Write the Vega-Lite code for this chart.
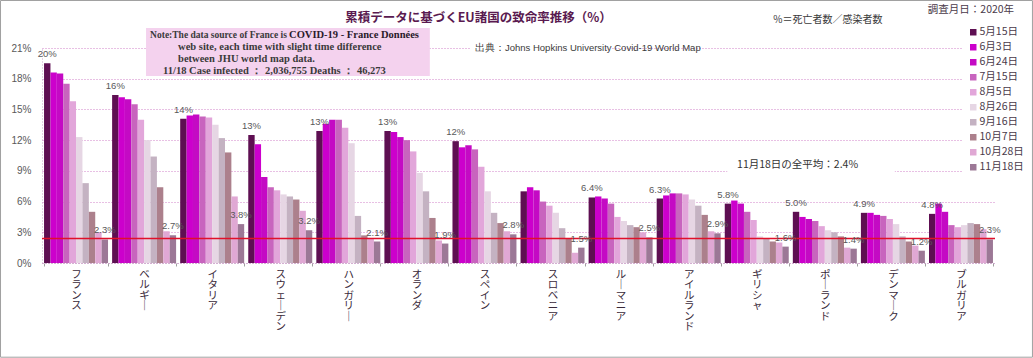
{
  "$schema": "https://vega.github.io/schema/vega-lite/v6.json",
  "width": 953,
  "height": 215,
  "autosize": {"type": "none"},
  "padding": {"left": 42, "top": 48, "right": 38, "bottom": 95},
  "background": "white",
  "datasets": {
    "rates": [
      {"country": "フランス", "date": "5月15日", "value": 19.5, "label": "20%"},
      {"country": "フランス", "date": "6月3日", "value": 18.6},
      {"country": "フランス", "date": "6月24日", "value": 18.5},
      {"country": "フランス", "date": "7月15日", "value": 17.5},
      {"country": "フランス", "date": "8月5日", "value": 15.8},
      {"country": "フランス", "date": "8月26日", "value": 12.3},
      {"country": "フランス", "date": "9月16日", "value": 7.8},
      {"country": "フランス", "date": "10月7日", "value": 5.0},
      {"country": "フランス", "date": "10月28日", "value": 3.0},
      {"country": "フランス", "date": "11月18日", "value": 2.3, "label": "2.3%"},
      {"country": "ベルギー", "date": "5月15日", "value": 16.4, "label": "16%"},
      {"country": "ベルギー", "date": "6月3日", "value": 16.2},
      {"country": "ベルギー", "date": "6月24日", "value": 16.0},
      {"country": "ベルギー", "date": "7月15日", "value": 15.5},
      {"country": "ベルギー", "date": "8月5日", "value": 14.0},
      {"country": "ベルギー", "date": "8月26日", "value": 12.0},
      {"country": "ベルギー", "date": "9月16日", "value": 10.4},
      {"country": "ベルギー", "date": "10月7日", "value": 7.4},
      {"country": "ベルギー", "date": "10月28日", "value": 3.1},
      {"country": "ベルギー", "date": "11月18日", "value": 2.7, "label": "2.7%"},
      {"country": "イタリア", "date": "5月15日", "value": 14.1, "label": "14%"},
      {"country": "イタリア", "date": "6月3日", "value": 14.4},
      {"country": "イタリア", "date": "6月24日", "value": 14.5},
      {"country": "イタリア", "date": "7月15日", "value": 14.3},
      {"country": "イタリア", "date": "8月5日", "value": 14.2},
      {"country": "イタリア", "date": "8月26日", "value": 13.5},
      {"country": "イタリア", "date": "9月16日", "value": 12.2},
      {"country": "イタリア", "date": "10月7日", "value": 10.8},
      {"country": "イタリア", "date": "10月28日", "value": 6.5},
      {"country": "イタリア", "date": "11月18日", "value": 3.8, "label": "3.8%"},
      {"country": "スウェーデン", "date": "5月15日", "value": 12.5, "label": "13%"},
      {"country": "スウェーデン", "date": "6月3日", "value": 11.6},
      {"country": "スウェーデン", "date": "6月24日", "value": 8.4},
      {"country": "スウェーデン", "date": "7月15日", "value": 7.4},
      {"country": "スウェーデン", "date": "8月5日", "value": 7.1},
      {"country": "スウェーデン", "date": "8月26日", "value": 6.7},
      {"country": "スウェーデン", "date": "9月16日", "value": 6.5},
      {"country": "スウェーデン", "date": "10月7日", "value": 6.2},
      {"country": "スウェーデン", "date": "10月28日", "value": 5.1},
      {"country": "スウェーデン", "date": "11月18日", "value": 3.2, "label": "3.2%"},
      {"country": "ハンガリー", "date": "5月15日", "value": 12.9, "label": "13%"},
      {"country": "ハンガリー", "date": "6月3日", "value": 13.6},
      {"country": "ハンガリー", "date": "6月24日", "value": 14.0},
      {"country": "ハンガリー", "date": "7月15日", "value": 14.0},
      {"country": "ハンガリー", "date": "8月5日", "value": 13.2},
      {"country": "ハンガリー", "date": "8月26日", "value": 11.7},
      {"country": "ハンガリー", "date": "9月16日", "value": 4.6},
      {"country": "ハンガリー", "date": "10月7日", "value": 2.7},
      {"country": "ハンガリー", "date": "10月28日", "value": 2.4},
      {"country": "ハンガリー", "date": "11月18日", "value": 2.1, "label": "2.1%"},
      {"country": "オランダ", "date": "5月15日", "value": 12.9, "label": "13%"},
      {"country": "オランダ", "date": "6月3日", "value": 12.8},
      {"country": "オランダ", "date": "6月24日", "value": 12.3},
      {"country": "オランダ", "date": "7月15日", "value": 12.0},
      {"country": "オランダ", "date": "8月5日", "value": 10.9},
      {"country": "オランダ", "date": "8月26日", "value": 8.8},
      {"country": "オランダ", "date": "9月16日", "value": 7.0},
      {"country": "オランダ", "date": "10月7日", "value": 4.4},
      {"country": "オランダ", "date": "10月28日", "value": 2.2},
      {"country": "オランダ", "date": "11月18日", "value": 1.9, "label": "1.9%"},
      {"country": "スペイン", "date": "5月15日", "value": 11.9, "label": "12%"},
      {"country": "スペイン", "date": "6月3日", "value": 11.3},
      {"country": "スペイン", "date": "6月24日", "value": 11.5},
      {"country": "スペイン", "date": "7月15日", "value": 11.1},
      {"country": "スペイン", "date": "8月5日", "value": 9.4},
      {"country": "スペイン", "date": "8月26日", "value": 7.0},
      {"country": "スペイン", "date": "9月16日", "value": 4.9},
      {"country": "スペイン", "date": "10月7日", "value": 3.9},
      {"country": "スペイン", "date": "10月28日", "value": 3.1},
      {"country": "スペイン", "date": "11月18日", "value": 2.8, "label": "2.8%"},
      {"country": "スロベニア", "date": "5月15日", "value": 7.0},
      {"country": "スロベニア", "date": "6月3日", "value": 7.4},
      {"country": "スロベニア", "date": "6月24日", "value": 7.1},
      {"country": "スロベニア", "date": "7月15日", "value": 6.0},
      {"country": "スロベニア", "date": "8月5日", "value": 5.6},
      {"country": "スロベニア", "date": "8月26日", "value": 4.9},
      {"country": "スロベニア", "date": "9月16日", "value": 3.4},
      {"country": "スロベニア", "date": "10月7日", "value": 2.4},
      {"country": "スロベニア", "date": "10月28日", "value": 1.0},
      {"country": "スロベニア", "date": "11月18日", "value": 1.5, "label": "1.5%"},
      {"country": "ルーマニア", "date": "5月15日", "value": 6.4, "label": "6.4%"},
      {"country": "ルーマニア", "date": "6月3日", "value": 6.5},
      {"country": "ルーマニア", "date": "6月24日", "value": 6.3},
      {"country": "ルーマニア", "date": "7月15日", "value": 5.8},
      {"country": "ルーマニア", "date": "8月5日", "value": 4.5},
      {"country": "ルーマニア", "date": "8月26日", "value": 4.1},
      {"country": "ルーマニア", "date": "9月16日", "value": 3.7},
      {"country": "ルーマニア", "date": "10月7日", "value": 3.5},
      {"country": "ルーマニア", "date": "10月28日", "value": 3.0},
      {"country": "ルーマニア", "date": "11月18日", "value": 2.5, "label": "2.5%"},
      {"country": "アイルランド", "date": "5月15日", "value": 6.3, "label": "6.3%"},
      {"country": "アイルランド", "date": "6月3日", "value": 6.6},
      {"country": "アイルランド", "date": "6月24日", "value": 6.8},
      {"country": "アイルランド", "date": "7月15日", "value": 6.8},
      {"country": "アイルランド", "date": "8月5日", "value": 6.7},
      {"country": "アイルランド", "date": "8月26日", "value": 6.2},
      {"country": "アイルランド", "date": "9月16日", "value": 5.6},
      {"country": "アイルランド", "date": "10月7日", "value": 4.7},
      {"country": "アイルランド", "date": "10月28日", "value": 3.1},
      {"country": "アイルランド", "date": "11月18日", "value": 2.9, "label": "2.9%"},
      {"country": "ギリシャ", "date": "5月15日", "value": 5.8, "label": "5.8%"},
      {"country": "ギリシャ", "date": "6月3日", "value": 6.1},
      {"country": "ギリシャ", "date": "6月24日", "value": 5.8},
      {"country": "ギリシャ", "date": "7月15日", "value": 5.0},
      {"country": "ギリシャ", "date": "8月5日", "value": 4.2},
      {"country": "ギリシャ", "date": "8月26日", "value": 2.6},
      {"country": "ギリシャ", "date": "9月16日", "value": 2.4},
      {"country": "ギリシャ", "date": "10月7日", "value": 2.1},
      {"country": "ギリシャ", "date": "10月28日", "value": 2.0},
      {"country": "ギリシャ", "date": "11月18日", "value": 1.6, "label": "1.6%"},
      {"country": "ポーランド", "date": "5月15日", "value": 5.0, "label": "5.0%"},
      {"country": "ポーランド", "date": "6月3日", "value": 4.5},
      {"country": "ポーランド", "date": "6月24日", "value": 4.3},
      {"country": "ポーランド", "date": "7月15日", "value": 4.1},
      {"country": "ポーランド", "date": "8月5日", "value": 3.6},
      {"country": "ポーランド", "date": "8月26日", "value": 3.2},
      {"country": "ポーランド", "date": "9月16日", "value": 3.0},
      {"country": "ポーランド", "date": "10月7日", "value": 2.6},
      {"country": "ポーランド", "date": "10月28日", "value": 1.5},
      {"country": "ポーランド", "date": "11月18日", "value": 1.4, "label": "1.4%"},
      {"country": "デンマーク", "date": "5月15日", "value": 4.9, "label": "4.9%"},
      {"country": "デンマーク", "date": "6月3日", "value": 4.9},
      {"country": "デンマーク", "date": "6月24日", "value": 4.7},
      {"country": "デンマーク", "date": "7月15日", "value": 4.6},
      {"country": "デンマーク", "date": "8月5日", "value": 4.3},
      {"country": "デンマーク", "date": "8月26日", "value": 3.8},
      {"country": "デンマーク", "date": "9月16日", "value": 2.6},
      {"country": "デンマーク", "date": "10月7日", "value": 2.1},
      {"country": "デンマーク", "date": "10月28日", "value": 1.7},
      {"country": "デンマーク", "date": "11月18日", "value": 1.2, "label": "1.2%"},
      {"country": "ブルガリア", "date": "5月15日", "value": 4.8, "label": "4.8%"},
      {"country": "ブルガリア", "date": "6月3日", "value": 5.8},
      {"country": "ブルガリア", "date": "6月24日", "value": 5.0},
      {"country": "ブルガリア", "date": "7月15日", "value": 3.7},
      {"country": "ブルガリア", "date": "8月5日", "value": 3.5},
      {"country": "ブルガリア", "date": "8月26日", "value": 3.7},
      {"country": "ブルガリア", "date": "9月16日", "value": 3.9},
      {"country": "ブルガリア", "date": "10月7日", "value": 3.8},
      {"country": "ブルガリア", "date": "10月28日", "value": 3.3},
      {"country": "ブルガリア", "date": "11月18日", "value": 2.3, "label": "2.3%"}
    ]
  },
  "layer": [
    {
      "data": {"name": "rates"},
      "mark": {"type": "bar"},
      "encoding": {
        "x": {
          "field": "country", "type": "nominal",
          "scale": {"domain": ["フランス","ベルギー","イタリア","スウェーデン","ハンガリー","オランダ","スペイン","スロベニア","ルーマニア","アイルランド","ギリシャ","ポーランド","デンマーク","ブルガリア"], "paddingInner": 0.06, "paddingOuter": 0.03},
          "axis": {"title": null, "labelAngle": 0, "labelExpr": "split(replace(datum.label, 'ー', '｜'), '')", "labelFont": "Noto Sans CJK JP", "labelFontSize": 10.5, "labelLineHeight": 10.5, "labelColor": "#3a2a3a", "labelPadding": 3, "labelBaseline": "top", "tickBand": "extent", "tickSize": 3, "tickColor": "#a0a0a0", "domainColor": "#c0a0c0", "domainDash": [1, 2], "labelOverlap": false}
        },
        "xOffset": {
          "field": "date", "type": "nominal",
          "scale": {"domain": ["5月15日","6月3日","6月24日","7月15日","8月5日","8月26日","9月16日","10月7日","10月28日","11月18日"], "paddingInner": 0, "paddingOuter": 0}
        },
        "y": {
          "field": "value", "type": "quantitative",
          "scale": {"domain": [0, 21], "nice": false, "zero": true},
          "axis": {"title": null, "values": [0,3,6,9,12,15,18,21], "tickCount": 8, "labelExpr": "datum.value + '%'", "labelFont": "Liberation Sans", "labelFontSize": 10, "labelColor": "#595959", "labelPadding": 11, "labelOverlap": false, "labelSeparation": 0, "labelBound": false, "labelFlush": false, "tickSize": 0, "ticks": false, "grid": true, "gridColor": "#d080c8", "gridDash": [1, 2], "gridWidth": 1, "domainColor": "#c8a8c8", "domainDash": [1, 2]}
        },
        "color": {
          "field": "date", "type": "nominal",
          "scale": {"domain": ["5月15日","6月3日","6月24日","7月15日","8月5日","8月26日","9月16日","10月7日","10月28日","11月18日"], "range": ["#5e0f52","#cc00cc","#c40ac4","#c864be","#e2a6da","#e6d6e4","#c4b2c2","#ac808c","#e0a8d4","#9c7896"]},
          "legend": {"orient": "none", "legendX": 920, "legendY": -27, "title": null, "fillColor": "white", "padding": 6, "symbolType": "square", "symbolSize": 42, "symbolStrokeWidth": 0, "labelFont": "Noto Sans CJK JP", "labelFontSize": 10.5, "labelColor": "#4a3a4a", "rowPadding": 4, "labelOffset": 1}
        }
      }
    },
    {
      "data": {"values": [{}]},
      "mark": {"type": "rule", "color": "#e0102a", "strokeWidth": 1.5},
      "encoding": {"y": {"datum": 2.4}}
    },
    {
      "data": {"name": "rates"},
      "transform": [{"filter": "isValid(datum.label)"}],
      "mark": {"type": "text", "baseline": "bottom", "dy": -4, "font": "Liberation Sans", "fontSize": 9.5, "color": "#595959"},
      "encoding": {
        "x": {"field": "country", "type": "nominal"},
        "xOffset": {"field": "date", "type": "nominal"},
        "y": {"field": "value", "type": "quantitative"},
        "text": {"field": "label"}
      }
    },
    {
      "data": {"values": [{}]},
      "mark": {"type": "rect", "color": "#f4d2ee"},
      "encoding": {
        "x": {"datum": "ベルギー", "bandPosition": 0.53},
        "x2": {"datum": "オランダ", "bandPosition": 0.71},
        "y": {"datum": 22.95},
        "y2": {"datum": 18.27}
      }
    },
    {
      "data": {"values": [{}]},
      "mark": {"type": "rect", "color": "white"},
      "encoding": {
        "x": {"datum": "スペイン", "bandPosition": 0.28},
        "x2": {"datum": "ルーマニア", "bandPosition": 0.36},
        "y": {"datum": 21.6},
        "y2": {"datum": 20.3}
      }
    },
    {
      "data": {"values": [{}]},
      "mark": {"type": "rect", "color": "white"},
      "encoding": {
        "x": {"datum": "ギリシャ", "bandPosition": 0.04},
        "x2": {"datum": "デンマーク", "bandPosition": 0.53},
        "y": {"datum": 10.3},
        "y2": {"datum": 8.7}
      }
    },
    {
      "data": {"values": [{}]},
      "mark": {"type": "rect", "fill": null, "fillOpacity": 0, "stroke": "#a0a0a0", "strokeWidth": 1},
      "encoding": {
        "x": {"datum": "フランス", "bandPosition": -0.68},
        "x2": {"datum": "ブルガリア", "bandPosition": 1.617},
        "y": {"datum": 25.64},
        "y2": {"datum": -9.2}
      }
    },
    {
      "data": {"values": [{}]},
      "mark": {"type": "text", "text": "累積データに基づくEU諸国の致命率推移（%）", "font": "Noto Sans CJK JP", "fontWeight": "bold", "fontSize": 12.5, "color": "#5a1a50", "align": "center", "baseline": "middle", "dx": -6},
      "encoding": {"x": {"datum": "スペイン"}, "y": {"datum": 23.93}}
    },
    {
      "data": {"values": [{}]},
      "mark": {"type": "text", "text": "%＝死亡者数／感染者数", "font": "Noto Sans CJK JP", "fontSize": 10, "color": "#3a3a3a", "align": "center", "baseline": "middle", "dx": 3},
      "encoding": {"x": {"datum": "ポーランド"}, "y": {"datum": 23.73}}
    },
    {
      "data": {"values": [{}]},
      "mark": {"type": "text", "text": "調査月日：2020年", "font": "Noto Sans CJK JP", "fontSize": 10.5, "color": "#4a3a4a", "align": "center", "baseline": "middle", "dx": 10},
      "encoding": {"x": {"datum": "ブルガリア"}, "y": {"datum": 24.71}}
    },
    {
      "data": {"values": [{}]},
      "mark": {"type": "text", "text": "出典：Johns Hopkins University   Covid-19 World Map", "font": "Liberation Sans", "fontSize": 9.5, "color": "#3a3a3a", "align": "left", "baseline": "middle", "dx": -9.5},
      "encoding": {"x": {"datum": "スペイン"}, "y": {"datum": 21}}
    },
    {
      "data": {"values": [{}]},
      "mark": {"type": "text", "text": "11月18日の全平均：2.4%", "font": "Noto Sans CJK JP", "fontSize": 10.5, "color": "#333333", "align": "left", "baseline": "middle", "dx": -19.7},
      "encoding": {"x": {"datum": "ギリシャ"}, "y": {"datum": 9.57}}
    },
    {
      "data": {"values": [{}]},
      "mark": {"type": "text", "text": "Note:The data source of France is", "font": "Liberation Serif", "fontWeight": "bold", "fontSize": 9.5, "color": "#3a3a3a", "align": "left", "baseline": "middle", "dx": 6},
      "encoding": {"x": {"datum": "ベルギー"}, "y": {"datum": 22.27}}
    },
    {
      "data": {"values": [{}]},
      "mark": {"type": "text", "text": "COVID-19 - France Données", "font": "Liberation Serif", "fontWeight": "bold", "fontSize": 10.5, "color": "#2a1a2a", "align": "left", "baseline": "middle", "dx": 145},
      "encoding": {"x": {"datum": "ベルギー"}, "y": {"datum": 22.27}}
    },
    {
      "data": {"values": [{}]},
      "mark": {"type": "text", "text": "web site, each time with slight time difference", "font": "Liberation Serif", "fontWeight": "bold", "fontSize": 10.5, "color": "#3a3a3a", "align": "left", "baseline": "middle", "dx": 34},
      "encoding": {"x": {"datum": "ベルギー"}, "y": {"datum": 21.1}}
    },
    {
      "data": {"values": [{}]},
      "mark": {"type": "text", "text": "between JHU world map data.", "font": "Liberation Serif", "fontWeight": "bold", "fontSize": 10.5, "color": "#3a3a3a", "align": "left", "baseline": "middle", "dx": 34},
      "encoding": {"x": {"datum": "ベルギー"}, "y": {"datum": 19.93}}
    },
    {
      "data": {"values": [{}]},
      "mark": {"type": "text", "text": "11/18 Case infected ： 2,036,755 Deaths ： 46,273", "font": "Liberation Serif", "fontWeight": "bold", "fontSize": 10.5, "color": "#3a3a3a", "align": "left", "baseline": "middle", "dx": 19},
      "encoding": {"x": {"datum": "ベルギー"}, "y": {"datum": 18.75}}
    }
  ],
  "config": {
    "view": {"stroke": null},
    "font": "Noto Sans CJK JP",
    "axisY": {"labelOverlap": false}
  }
}
